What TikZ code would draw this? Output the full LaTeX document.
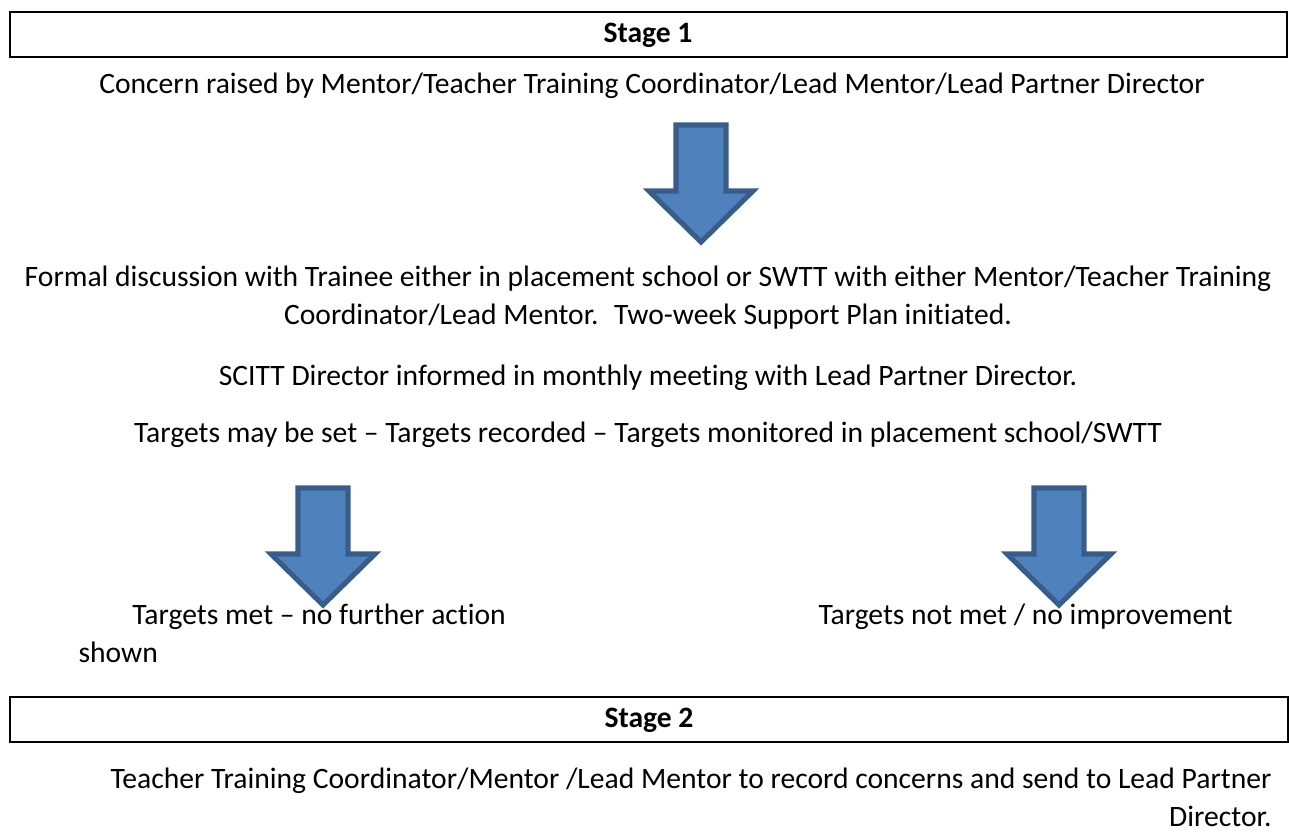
\documentclass[tikz,border=0pt]{standalone}
\usepackage{fontspec}
\setmainfont{Carlito}[Ligatures=NoCommon]
\usetikzlibrary{positioning,calc}
\definecolor{arrowFill}{HTML}{4F81BD}
\definecolor{arrowLine}{HTML}{385D8A}
\newcommand{\bodyfont}{\fontsize{11pt}{14.3pt}\selectfont}
\tikzset{
    stageBox/.style={draw=black, line width=0.65pt},
    stageTitle/.style={font=\bodyfont\bfseries, anchor=base, inner sep=0pt},
    flowText/.style={font=\bodyfont, anchor=base, inner sep=0pt, align=center},
    blockArrow/.style={fill=arrowFill, draw=arrowLine, line width=1.9pt, line join=miter}
}
% block arrow pointing down, hung from its top centre
\newcommand{\downblock}[1]{%
    \draw[blockArrow] (#1) ++(-25,0) -- ++(50,0) -- ++(0,66) -- ++(27,0)
        -- ++(-52,51) -- ++(-52,-51) -- ++(27,0) -- cycle;
}

\begin{document}
\begin{tikzpicture}[x=0.3716pt, y=-0.3716pt]
\useasboundingbox (0,0) rectangle (1289,832);

% Stage 1
\draw[stageBox] (10,12) rectangle (1287,57);
\node[stageTitle] (s1) at (648,43) {Stage 1};
\node[flowText] (concern) at (652,94) {Concern raised by Mentor/Teacher Training Coordinator/Lead Mentor/Lead Partner Director};
\coordinate (a1) at (701,125);

% multi-line nodes sit on the baseline of their last line
\node[flowText] (formal) at (648,325) {Formal discussion with Trainee either in placement school or SWTT with either Mentor/Teacher Training\\Coordinator/Lead Mentor.~ Two-week Support Plan initiated.};
\node[flowText] (scitt) at (648,386) {SCITT Director informed in monthly meeting with Lead Partner Director.};
\node[flowText] (targets) at (648,443) {Targets may be set – Targets recorded – Targets monitored in placement school/SWTT};

% outcomes
\coordinate (a2) at (323,488);
\coordinate (a3) at (1059,488);
\node[flowText, anchor=base west, align=left] (met) at (78,663) {\hspace*{20pt}Targets met – no further action\\shown};
\node[flowText, anchor=base west] (notmet) at (818,625) {Targets not met / no improvement};

% Stage 2
\draw[stageBox] (10,697) rectangle (1288,742);
\node[stageTitle] (s2) at (649,728) {Stage 2};
\node[flowText, anchor=base east, align=right] (record) at (1272,827) {Teacher Training Coordinator/Mentor /Lead Mentor to record concerns and send to Lead Partner\\Director.};

% arrows
\downblock{a1}
\downblock{a2}
\downblock{a3}
\end{tikzpicture}
\end{document}
